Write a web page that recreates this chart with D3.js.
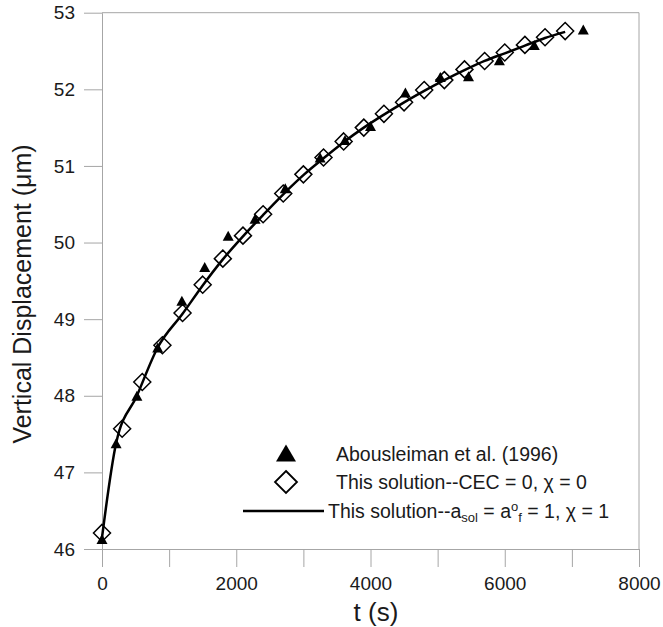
<!DOCTYPE html>
<html><head><meta charset="utf-8">
<script src="https://cdn.jsdelivr.net/npm/d3@7"></script>
<style>body{margin:0;background:#fff}svg{display:block;font-family:"Liberation Sans",Arial,sans-serif}</style>
</head><body>
<svg id="c" width="663" height="627"></svg>
<script>
// Abousleiman et al. (1996) – triangles
const triT = [0, 210, 520, 830, 1190, 1530, 1880, 2280, 2730, 3250, 3620, 4000, 4520, 5040, 5460, 5920, 6440, 7170];
const triY = [46.13, 47.38, 48.0, 48.63, 49.24, 49.68, 50.09, 50.31, 50.71, 51.11, 51.34, 51.52, 51.96, 52.16, 52.17, 52.38, 52.58, 52.78];
// This solution--CEC = 0, chi = 0 – diamonds
const diaT = [0, 300, 600, 900, 1200, 1500, 1800, 2100, 2400, 2700, 3000, 3300, 3600, 3900, 4200, 4500, 4800, 5100, 5400, 5700, 6000, 6300, 6600, 6900];
const diaY = [46.21, 47.57, 48.18, 48.66, 49.08, 49.45, 49.79, 50.09, 50.37, 50.64, 50.89, 51.11, 51.32, 51.50, 51.68, 51.83, 51.99, 52.12, 52.26, 52.37, 52.48, 52.58, 52.68, 52.76];
// This solution--a_sol = a°f = 1, chi = 1 – line
const lineT = [0, 210, 520, 830, 1200, 1500, 1800, 2100, 2400, 2700, 3000, 3300, 3600, 3900, 4200, 4500, 4800, 5100, 5400, 5700, 6000, 6300, 6600, 6900];
const lineY = [46.15, 47.38, 48.0, 48.63, 49.07, 49.44, 49.78, 50.08, 50.36, 50.63, 50.88, 51.1, 51.31, 51.5, 51.67, 51.83, 51.98, 52.12, 52.25, 52.37, 52.47, 52.57, 52.67, 52.75];
const xTicks = [0, 1000, 2000, 3000, 4000, 5000, 6000, 7000, 8000];
const xLabels = [0, 2000, 4000, 6000, 8000];
const yTicks = [46, 47, 48, 49, 50, 51, 52, 53];

const svg = d3.select("#c");
const L = 102, R = 639, T = 12.7, B = 549;
const x = d3.scaleLinear().domain([0, 8000]).range([L, R]);
const y = d3.scaleLinear().domain([46, 53]).range([B, T]);
const axisCol = "#a6a6a6";

// box top & right
svg.append("line").attr("x1", L).attr("x2", R).attr("y1", T).attr("y2", T).attr("stroke", axisCol);
svg.append("line").attr("x1", R).attr("x2", R).attr("y1", T).attr("y2", B).attr("stroke", axisCol);

// x axis
const xa = svg.append("g").attr("transform", `translate(0,${B})`)
  .call(d3.axisBottom(x).tickValues(xTicks).tickSize(18).tickSizeOuter(0).tickFormat(d => xLabels.includes(d) ? d : ""));
xa.select(".domain").attr("stroke", axisCol);
xa.selectAll(".tick line").attr("stroke", axisCol);
xa.selectAll(".tick text").attr("font-size", 19).attr("fill", "#1a1a1a").attr("font-family", "Liberation Sans, Arial, sans-serif").attr("y", 28);

// y axis
const ya = svg.append("g").attr("transform", `translate(${L},0)`)
  .call(d3.axisLeft(y).tickValues(yTicks).tickSize(18).tickSizeOuter(0).tickFormat(d3.format("d")));
ya.select(".domain").attr("stroke", axisCol);
ya.selectAll(".tick line").attr("stroke", axisCol);
ya.selectAll(".tick text").attr("font-size", 19).attr("fill", "#1a1a1a").attr("font-family", "Liberation Sans, Arial, sans-serif").attr("x", -27);

// axis titles
svg.append("text").attr("x", 376).attr("y", 621).attr("text-anchor", "middle")
  .attr("font-size", 26).attr("fill", "#1a1a1a").text("t (s)");
svg.append("text").attr("transform", `translate(31,294) rotate(-90)`).attr("text-anchor", "middle")
  .attr("font-size", 25).attr("fill", "#1a1a1a").text("Vertical Displacement (\u03bcm)");

const triPath = (cx, cy, w, h) => `M${cx - w / 2},${cy + h / 2}L${cx + w / 2},${cy + h / 2}L${cx},${cy - h / 2}Z`;
const diaPath = (cx, cy, r) => `M${cx},${cy - r}L${cx + r},${cy}L${cx},${cy + r}L${cx - r},${cy}Z`;

// diamonds
svg.append("g").selectAll("path").data(diaT.map((t, i) => [t, diaY[i]])).join("path")
  .attr("d", d => diaPath(x(d[0]), y(d[1]), 8.5)).attr("fill", "#fff").attr("stroke", "#000").attr("stroke-width", 1.5);
// triangles
svg.append("g").selectAll("path").data(triT.map((t, i) => [t, triY[i]])).join("path")
  .attr("d", d => triPath(x(d[0]), y(d[1]), 11, 10)).attr("fill", "#000");
// line
svg.append("path").datum(lineT.map((t, i) => [t, lineY[i]]))
  .attr("d", d3.line().x(d => x(d[0])).y(d => y(d[1])).curve(d3.curveMonotoneX))
  .attr("fill", "none").attr("stroke", "#000").attr("stroke-width", 2.5);

// legend
const lg = svg.append("g").attr("font-size", 19.5).attr("fill", "#1a1a1a");
lg.append("path").attr("d", triPath(286, 453, 20, 17)).attr("fill", "#000");
lg.append("text").attr("x", 336).attr("y", 456).attr("dominant-baseline", "middle").text("Abousleiman et al. (1996)");
lg.append("path").attr("d", diaPath(286, 482, 11)).attr("fill", "#fff").attr("stroke", "#000").attr("stroke-width", 1.8);
lg.append("text").attr("x", 336).attr("y", 484).attr("dominant-baseline", "middle").text("This solution--CEC = 0, \u03c7 = 0");
lg.append("line").attr("x1", 243).attr("x2", 324).attr("y1", 511).attr("y2", 511).attr("stroke", "#000").attr("stroke-width", 2.5);
const t3 = lg.append("text").attr("x", 328).attr("y", 518);
t3.append("tspan").text("This solution--a");
t3.append("tspan").attr("font-size", 13).attr("dy", 4).text("sol");
t3.append("tspan").attr("dy", -4).text(" = a");
t3.append("tspan").attr("font-size", 13).attr("dy", -7).text("o");
t3.append("tspan").attr("font-size", 13).attr("dy", 11).text("f");
t3.append("tspan").attr("dy", -4).text(" = 1, \u03c7 = 1");
</script>
</body></html>
